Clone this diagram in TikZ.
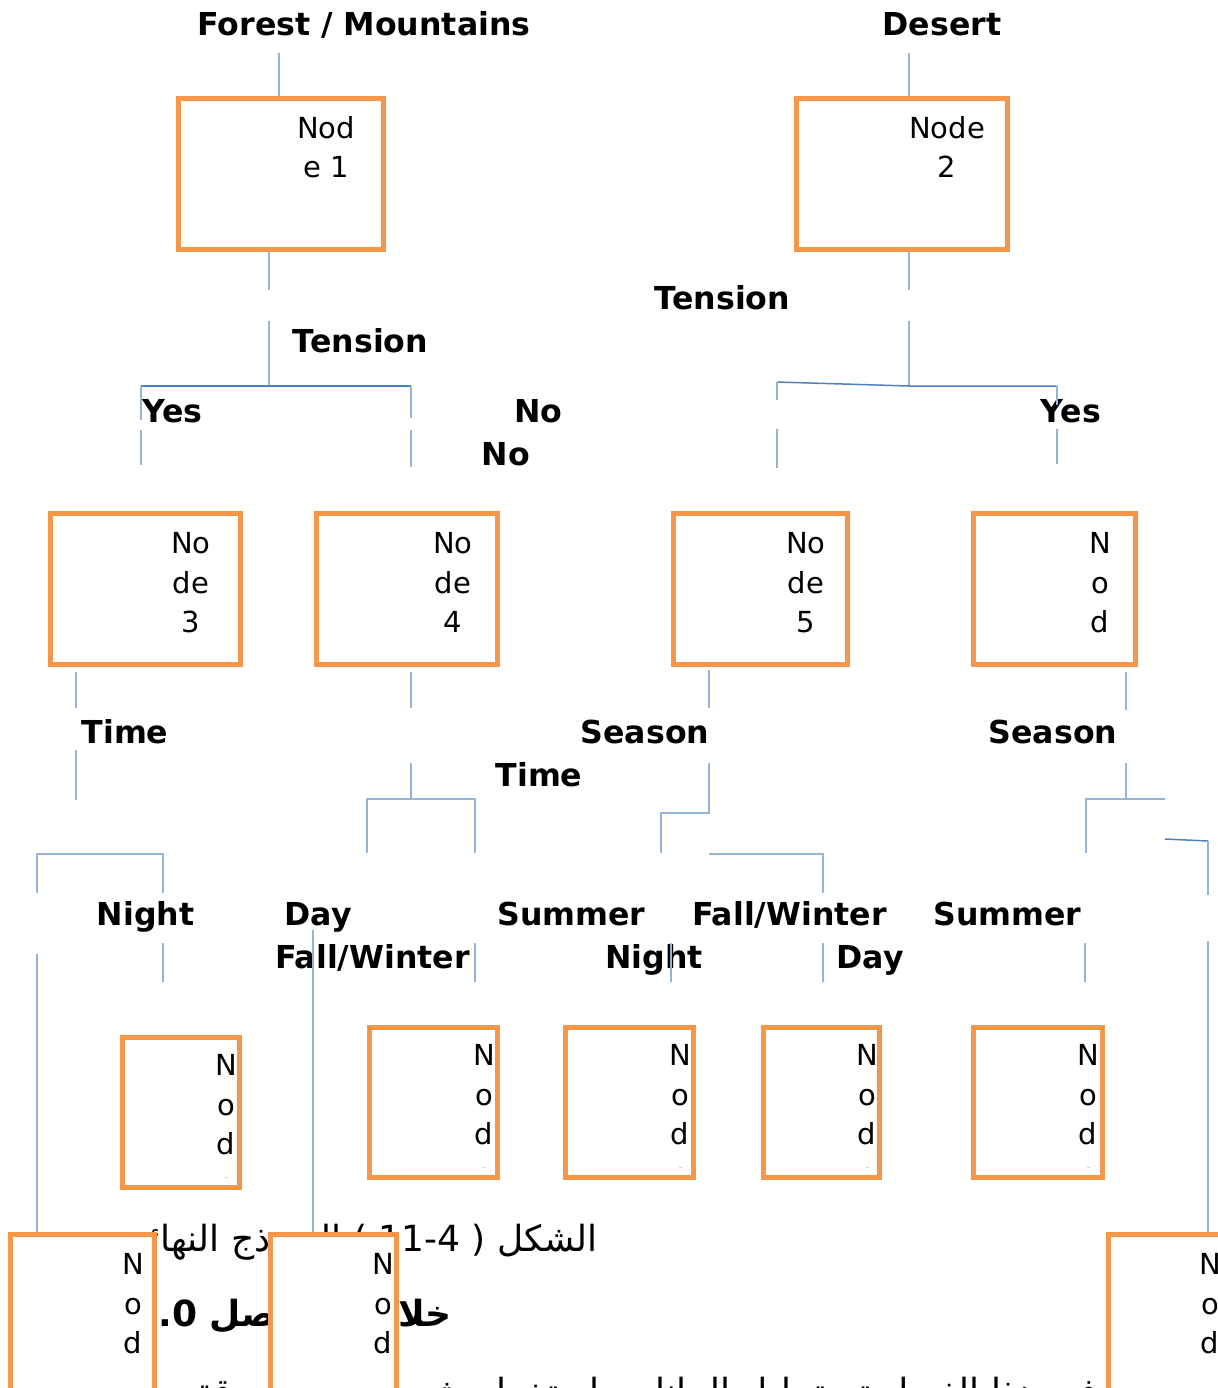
\documentclass[tikz,border=0pt]{standalone}
\usepackage{fontspec}
\setmainfont{DejaVu Sans}
\newfontfamily\arabicfont[Script=Arabic]{DejaVu Sans}
\TeXXeTstate=1
\definecolor{boxorange}{RGB}{247,150,70}
\definecolor{linklight}{RGB}{149,179,215}
\definecolor{linkdark}{RGB}{79,129,189}
\tikzset{
  box/.style={draw=boxorange, line width=2.7pt, fill=white, rectangle, inner sep=0pt},
  boxtext/.style={font=\fontsize{14.5}{19.75}\selectfont, align=center, inner sep=0pt, anchor=north},
  lab/.style={font=\bfseries\fontsize{15.8}{18}\selectfont, inner sep=0pt, anchor=base},
  link/.style={draw=linklight, line width=0.75pt},
  linkd/.style={draw=linkdark, line width=0.75pt},
  artext/.style={inner sep=0pt, anchor=base east}
}
\begin{document}
\begin{tikzpicture}[x=0.5pt, y=-0.5pt]
\clip (0,0) rectangle (1218,1388);
\fill[white] (0,0) rectangle (1218,1388);

% ---------- branch labels ----------
\node[lab] (lForest)  at (364,35)   {Forest / Mountains};
\node[lab] (lDesert)  at (942,35)   {Desert};
\node[lab] (lTensL)   at (360.5,352) {Tension};
\node[lab] (lTensR)   at (722.5,309) {Tension};
\node[lab] (lYesL)    at (172.5,422) {Yes};
\node[lab] (lNoA)     at (538.5,422) {No};
\node[lab] (lNoB)     at (506,465)   {No};
\node[lab] (lYesR)    at (1071,422)  {Yes};
\node[lab] (lTimeA)   at (125,743)   {Time};
\node[lab] (lSeasA)   at (645,743)   {Season};
\node[lab] (lSeasB)   at (1053,743)  {Season};
\node[lab] (lTimeB)   at (539,786)   {Time};
\node[lab] (lNightA)  at (145.5,925) {Night};
\node[lab] (lDayA)    at (318,925)   {Day};
\node[lab] (lSumA)    at (571.5,925) {Summer};
\node[lab] (lFallA)   at (789.5,925) {Fall/Winter};
\node[lab] (lSumB)    at (1007.5,925) {Summer};
\node[lab] (lFallB)   at (372.5,968) {Fall/Winter};
\node[lab] (lNightB)  at (654,968)   {Night};
\node[lab] (lDayB)    at (870,968)   {Day};

% ---------- caption lines below the tree (partly behind the boxes) ----------
\node[artext, font=\fontsize{18}{22}\selectfont] (capA) at (598,1251)
  {\arabicfont\beginR الشكل ( \beginL 11-4\endL{} ) النموذج النهائي\endR};
\node[artext, font=\bfseries\fontsize{18}{22}\selectfont] (capB) at (452,1326)
  {\arabicfont\beginR خلاصة الفصل \beginL 1.0\endL\endR};
\node[artext, font=\fontsize{18}{22}\selectfont] (capC) at (1098,1404)
  {\arabicfont\beginR في هذا الفصل تم تحليل البيانات باستخدام شجرة القرار بدقة\endR};

% ---------- decision boxes ----------
\node[box, minimum width=102.5pt, minimum height=75.5pt] (n1) at (281,174) {};
\node[box, minimum width=105.5pt, minimum height=75.5pt] (n2) at (902,174) {};
\node[box, minimum width=95pt,    minimum height=75.5pt] (n3) at (145.5,589) {};
\node[box, minimum width=90.5pt,  minimum height=75.5pt] (n4) at (407,589) {};
\node[box, minimum width=87pt,    minimum height=75.5pt] (n5) at (760.5,589) {};
\node[box, minimum width=81pt,    minimum height=75.5pt] (n6) at (1054.5,589) {};
\node[box, minimum width=58.5pt,  minimum height=75pt] (nA) at (181,1112.5) {};
\node[box, minimum width=64pt,    minimum height=75pt] (nB) at (433.5,1102.5) {};
\node[box, minimum width=64pt,    minimum height=75pt] (nC) at (629.5,1102.5) {};
\node[box, minimum width=58pt,    minimum height=75pt] (nD) at (821.5,1102.5) {};
\node[box, minimum width=64.5pt,  minimum height=75pt] (nE) at (1038,1102.5) {};
\node[box, minimum width=72pt,    minimum height=101.5pt] (nF) at (82.5,1336) {};
\node[box, minimum width=63pt,    minimum height=101.5pt] (nG) at (333.5,1336) {};
\node[box, minimum width=94.5pt,  minimum height=101.5pt] (nH) at (1203,1336) {};

% ---------- box captions ----------
\node[boxtext] (t1) at (326,116) {Nod\\e 1};
\node[boxtext] (t2) at (947,116) {Node\\2};
\node[boxtext] (t3) at (191,532) {No\\de\\3};
\node[boxtext] (t4) at (453,532) {No\\de\\4};
\node[boxtext] (t5) at (806,532) {No\\de\\5};
\begin{scope}
  \clip (975,515) rectangle (1134,654);
  \node[boxtext] (t6) at (1100,532) {N\\o\\d\\e};
\end{scope}
\begin{scope}
  \clip (124,1039) rectangle (238,1177);
  \node[boxtext] (tA) at (226,1054) {N\\o\\d\\e};
\end{scope}
\begin{scope}
  \clip (371,1029) rectangle (496,1167);
  \node[boxtext] (tB) at (484,1044) {N\\o\\d\\e};
\end{scope}
\begin{scope}
  \clip (567,1029) rectangle (692,1167);
  \node[boxtext] (tC) at (680,1044) {N\\o\\d\\e};
\end{scope}
\begin{scope}
  \clip (765,1029) rectangle (878,1167);
  \node[boxtext] (tD) at (867,1044) {N\\o\\d\\e};
\end{scope}
\begin{scope}
  \clip (975,1029) rectangle (1101,1167);
  \node[boxtext] (tE) at (1088,1044) {N\\o\\d\\e};
\end{scope}
\begin{scope}
  \clip (12,1236) rectangle (153,1368);
  \node[boxtext] (tF) at (133,1253) {N\\o\\d\\e};
\end{scope}
\begin{scope}
  \clip (272,1236) rectangle (395,1368);
  \node[boxtext] (tG) at (383,1253) {N\\o\\d\\e};
\end{scope}
\begin{scope}
  \clip (1110,1236) rectangle (1218,1368);
  \node[boxtext] (tH) at (1210,1253) {N\\o\\d\\e};
\end{scope}

% ---------- connector end points ----------
\foreach \n/\p in {
  a1/{279,53}, a2/{909,53},
  b1/{269,290}, b2/{269,321}, b3/{269,386},
  b4/{141,386}, b5/{411,386}, b6/{141,420}, b7/{141,430}, b8/{141,465},
  b9/{411,418}, b10/{411,430}, b11/{411,467},
  c1/{909,290}, c2/{909,321}, c3/{909,386},
  c4/{777,382}, c5/{1057,386}, c6/{777,400}, c7/{777,429}, c8/{777,468},
  c9/{1057,405}, c10/{1057,429}, c11/{1057,464},
  d1/{76,672}, d2/{76,708}, d3/{76,750}, d4/{76,800},
  e1/{411,672}, e2/{411,708}, e3/{411,763}, e4/{411,799},
  e5/{367,799}, e6/{475,799}, e7/{367,853}, e8/{475,853},
  f1/{709,670}, f2/{709,708}, f3/{709,763}, f4/{709,813},
  f5/{661,813}, f6/{661,853}, f7/{709,854}, f8/{823,854}, f9/{823,893},
  g1/{1126,672}, g2/{1126,710}, g3/{1126,763}, g4/{1126,799},
  g5/{1086,799}, g6/{1165,799}, g7/{1086,853},
  g8/{1165,839}, g9/{1208,841}, g10/{1208,895},
  h1/{37,854}, h2/{163,854}, h3/{37,893}, h4/{163,893},
  k1/{163,943}, k2/{163,982}, k3/{37,954}, k4/{313,930},
  k5/{475,943}, k6/{475,982}, k7/{671,943}, k8/{671,982},
  k9/{823,943}, k10/{823,982}, k11/{1085,943}, k12/{1085,982},
  k13/{1208,941}}
  \coordinate (\n) at (\p);

% ---------- connectors ----------
% roots
\draw[link] (a1) -- (a1 |- n1.north);
\draw[link] (a2) -- (a2 |- n2.north);
% Node 1 split on Tension
\draw[link] (n1.south -| b1) -- (b1);
\draw[link] (b2) -- (b3);
\draw[linkd] (b4) -- (b5);
\draw[link] (b4) -- (b6);
\draw[link] (b7) -- (b8);
\draw[link] (b5) -- (b9);
\draw[link] (b10) -- (b11);
% Node 2 split on Tension
\draw[link] (n2.south -| c1) -- (c1);
\draw[link] (c2) -- (c3);
\draw[linkd] (c4) -- (c3) -- (c5);
\draw[link] (c4) -- (c6);
\draw[link] (c7) -- (c8);
\draw[link] (c5) -- (c9);
\draw[link] (c10) -- (c11);
% Node 3 split on Time
\draw[link] (d1) -- (d2);
\draw[link] (d3) -- (d4);
\draw[link] (h3) -- (h1) -- (h2) -- (h4);
\draw[link] (k1) -- (k2);
\draw[link] (k3) -- (k3 |- nF.north);
% Node 4 split on Time
\draw[link] (e1) -- (e2);
\draw[link] (e3) -- (e4);
\draw[link] (e7) -- (e5) -- (e6) -- (e8);
\draw[link] (k4) -- (k4 |- nG.north);
\draw[link] (k5) -- (k6);
% Node 5 split on Season
\draw[link] (f1) -- (f2);
\draw[link] (f3) -- (f4) -- (f5) -- (f6);
\draw[link] (f7) -- (f8) -- (f9);
\draw[link] (k7) -- (k8);
\draw[link] (k9) -- (k10);
% Node 6 split on Season
\draw[link] (g1) -- (g2);
\draw[link] (g3) -- (g4);
\draw[link] (g7) -- (g5) -- (g6);
\draw[linkd] (g8) -- (g9);
\draw[link] (g9) -- (g10);
\draw[link] (k11) -- (k12);
\draw[link] (k13) -- (k13 |- nH.north);
\end{tikzpicture}
\end{document}
